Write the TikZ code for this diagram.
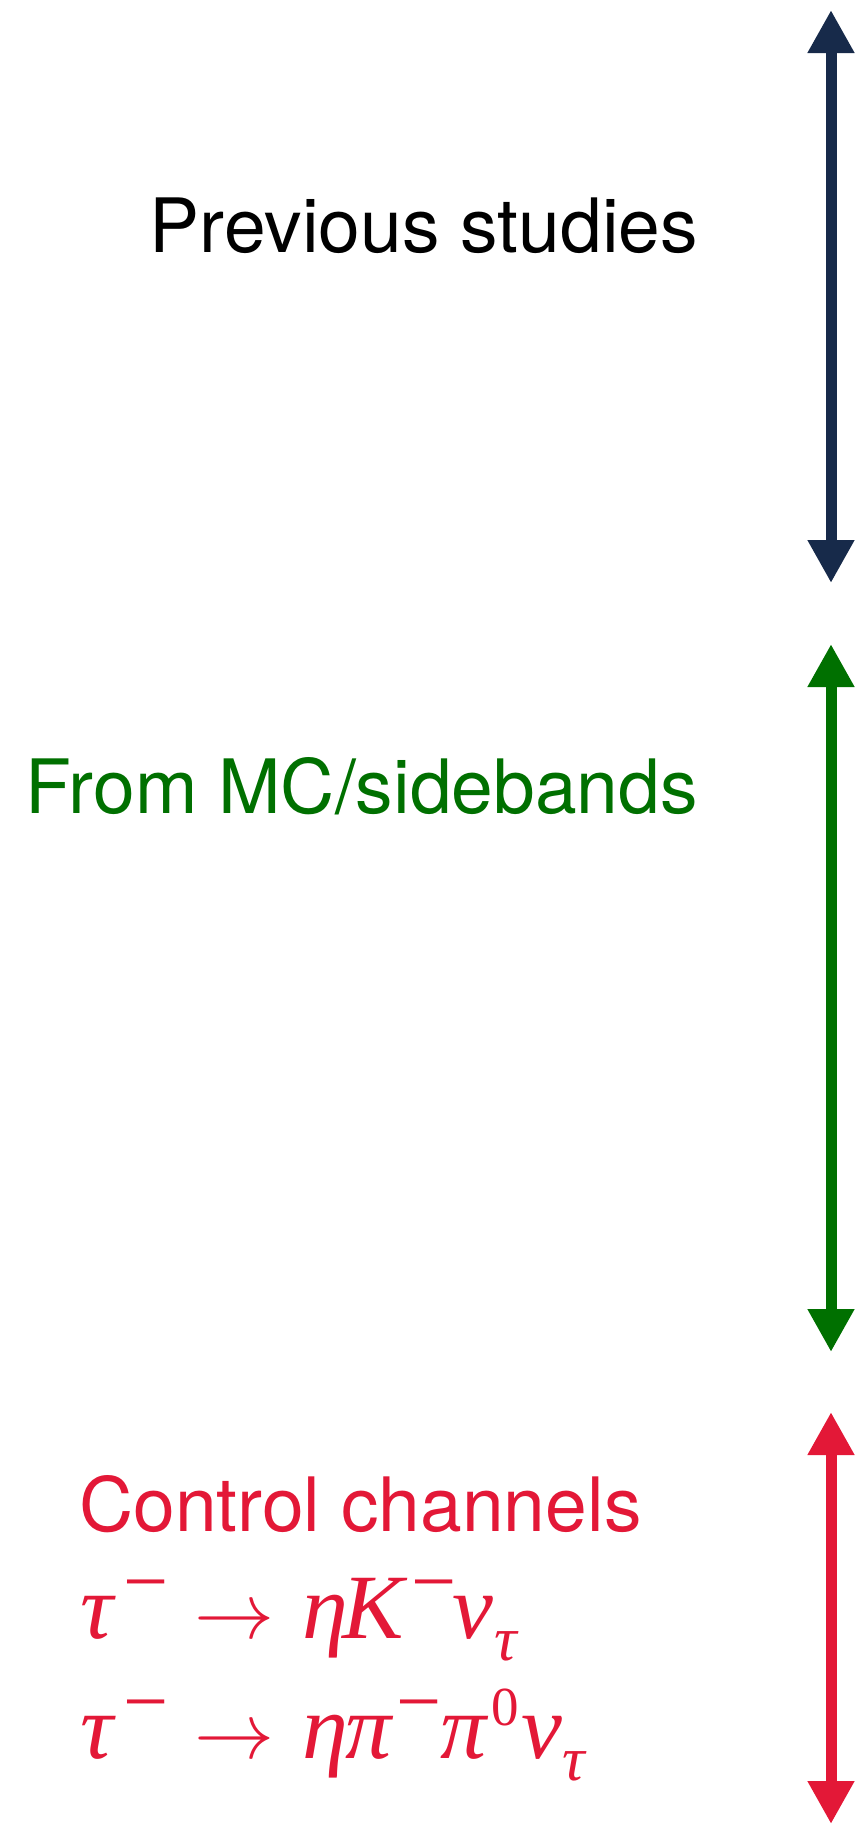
\documentclass[tikz,border=0pt]{standalone}
\usepackage{fontspec}
\usepackage{graphicx}
\setmainfont{TeX Gyre Heros}
\newfontfamily\tmsfont{Liberation Serif}
\usetikzlibrary{arrows.meta}
\definecolor{navyarrow}{RGB}{23,42,74}
\definecolor{mcgreen}{RGB}{0,112,0}
\definecolor{ctrlred}{RGB}{227,24,55}
% place one glyph at a horizontal offset, raised, at a given size
\newcommand\glyphat[4]{\makebox[0pt][l]{\kern#1pt\raisebox{#2pt}{\fontsize{#3}{#3}\selectfont#4}}}
% the reaction arrow, set from the math font and enlarged
\newcommand\reactarrow[1]{\makebox[0pt][l]{\kern#1pt\scalebox{8}{$\rightarrow$}}}
\tikzset{
  spanarrow/.style={line width=11pt, arrows={Triangle[width=44pt,length=43pt]-Triangle[width=44pt,length=43pt]}},
  sidelabel/.style={inner sep=0pt, font=\fontsize{75}{90}\selectfont},
  decayline/.style={inner sep=0pt, text=ctrlred, font=\tmsfont\itshape},
}
\begin{document}
\begin{tikzpicture}[x=1pt,y=-1pt]
  \useasboundingbox (0,0) rectangle (855,1824);
  % ranges on the right
  \coordinate (prevtop) at (831,10);
  \coordinate (prevbot) at (831,583);
  \coordinate (mctop) at (831,644);
  \coordinate (mcbot) at (831,1352);
  \coordinate (ctrltop) at (831,1412);
  \coordinate (ctrlbot) at (831,1824);
  \draw[spanarrow, navyarrow] (prevtop) -- (prevbot);
  \draw[spanarrow, mcgreen] (mctop) -- (mcbot);
  \draw[spanarrow, ctrlred] (ctrltop) -- (ctrlbot);
  % labels
  \node[sidelabel, anchor=base east] (prev) at (698,252) {Previous studies};
  \node[sidelabel, anchor=base east, text=mcgreen] (mc) at (698,813) {From MC/sidebands};
  \node[sidelabel, anchor=base west, text=ctrlred] (ctrl) at (79,1531) {Control channels};
  \node[decayline, anchor=base west] (decayK) at (80,1638) {%
    \glyphat{0}{0}{92}{τ}%
    \glyphat{43}{30}{80}{\upshape −}%
    \reactarrow{114}%
    \glyphat{222}{0}{92}{η}%
    \glyphat{262}{0}{92}{K}%
    \glyphat{331}{30}{80}{\upshape −}%
    \glyphat{372}{0}{92}{ν}%
    \glyphat{414}{-22}{63}{τ}};
  \node[decayline, anchor=base west] (decayPi) at (80,1758) {%
    \glyphat{0}{0}{92}{τ}%
    \glyphat{43}{30}{80}{\upshape −}%
    \reactarrow{114}%
    \glyphat{222}{0}{92}{η}%
    \glyphat{265}{0}{92}{π}%
    \glyphat{316}{30}{80}{\upshape −}%
    \glyphat{360}{0}{92}{π}%
    \glyphat{411}{33}{55}{\upshape 0}%
    \glyphat{441}{0}{92}{ν}%
    \glyphat{482}{-22}{63}{τ}};
\end{tikzpicture}
\end{document}
